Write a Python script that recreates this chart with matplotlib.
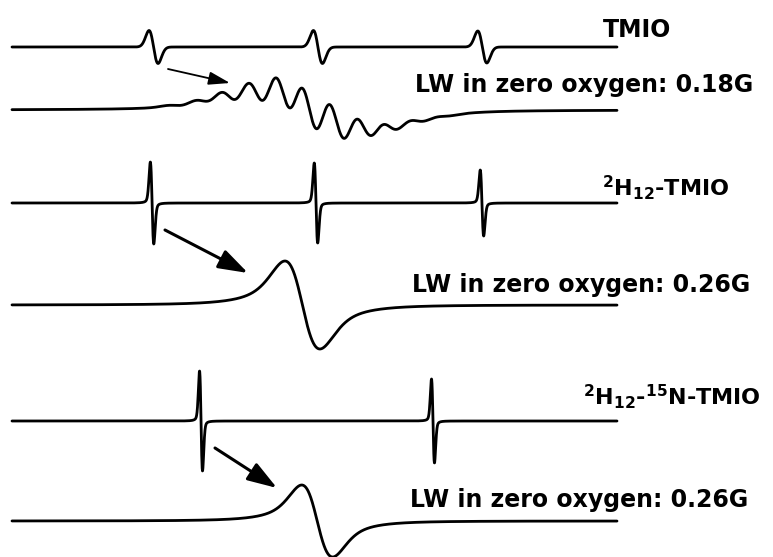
import numpy as np
import matplotlib
matplotlib.use('Agg')
import matplotlib.pyplot as plt
from matplotlib.patches import FancyArrowPatch

plt.rcParams['font.family'] = ['DejaVu Sans']
plt.rcParams['mathtext.fontset'] = 'dejavusans'
plt.rcParams['mathtext.default'] = 'regular'

## spectrum data (field in G, heights in a.u.)
full_scan = 53.0     # 3-line survey scans
zoom_scan = 4.5      # expanded low-field line

tmio_pos = [12.4, 26.8, 41.2]
tmio_amp = [16.5, 16.5, 16.0]
tmio_pp = 0.79

dtmio_pos = [12.27, 26.63, 41.17]
dtmio_amp = [41, 40, 33]
dtmio_pp = 0.30

n15_pos = [16.56, 36.88]
n15_amp = [50, 42]
n15_pp = 0.26

# TMIO low-field line: methyl proton superhyperfine components + broad envelope
shf_pos = [1.23, 1.43, 1.62, 1.82, 2.02, 2.21, 2.41, 2.61, 2.80, 3.00, 3.19]
shf_int = [0.04, 0.12, 0.3, 0.55, 0.85, 1.0, 0.82, 0.5, 0.25, 0.1, 0.03]
shf_pp = 0.15
shf_height = 20
env_pos = [2.28]
env_amp = [13]
env_pp = 0.85

dtmio_zoom_pos = [2.16]
dtmio_zoom_amp = [44]
dtmio_zoom_pp = 0.26

n15_zoom_pos = [2.27]
n15_zoom_amp = [36]
n15_zoom_pp = 0.23

labels = ['TMIO', r'$^{2}$H$_{12}$-TMIO', r'$^{2}$H$_{12}$-$^{15}$N-TMIO']
lw_text = ['LW in zero oxygen: 0.18G', 'LW in zero oxygen: 0.26G', 'LW in zero oxygen: 0.26G']


def first_deriv(field, pos, amp, pp, eta=0.0):
    # pseudo-Voigt first derivative, each line scaled to its peak height
    y = np.zeros_like(field)
    for c, a in zip(pos, amp):
        u = (field - c) / (pp / 2)
        g = -u * np.exp(0.5 - u ** 2 / 2)
        v = (field - c) / (pp * np.sqrt(3) / 2)
        l = -v / (1 + v ** 2) ** 2 / 0.3248
        y += a * ((1 - eta) * g + eta * l)
    return y


W, H = 773, 557
fig = plt.figure(figsize=(W / 100, H / 100), dpi=100)

x0, x1 = 12, 617            # trace extent (px)
baselines = [47, 110, 203, 305, 421, 521]

def trace_axes(base_px, scan):
    ax = fig.add_axes([x0 / W, 1 - (base_px + 60) / H, (x1 - x0) / W, 120 / H])
    ax.set_xlim(0, scan)
    ax.set_ylim(-60, 60)
    ax.axis('off')
    return ax

f_full = np.linspace(0, full_scan, 4000)
f_zoom = np.linspace(0, zoom_scan, 4000)

shf = first_deriv(f_zoom, shf_pos, shf_int, shf_pp, eta=0.1)
shf = shf / shf.max() * shf_height
shf = shf + first_deriv(f_zoom, env_pos, env_amp, env_pp, eta=0.3)

spectra = [
    (f_full, first_deriv(f_full, tmio_pos, tmio_amp, tmio_pp), full_scan),
    (f_zoom, shf, zoom_scan),
    (f_full, first_deriv(f_full, dtmio_pos, dtmio_amp, dtmio_pp, eta=0.2), full_scan),
    (f_zoom, first_deriv(f_zoom, dtmio_zoom_pos, dtmio_zoom_amp, dtmio_zoom_pp, eta=0.7), zoom_scan),
    (f_full, first_deriv(f_full, n15_pos, n15_amp, n15_pp, eta=0.2), full_scan),
    (f_zoom, first_deriv(f_zoom, n15_zoom_pos, n15_zoom_amp, n15_zoom_pp, eta=0.7), zoom_scan),
]

for base, (fx, sig, scan) in zip(baselines, spectra):
    ax = trace_axes(base, scan)
    ax.plot(fx, sig, color='black', lw=2.0, clip_on=False, solid_capstyle='round')

## labels (left x px, baseline y px)
font = dict(fontweight='bold', color='black', va='baseline', ha='left')
for (lx, ly), s, fs in zip([(603, 37), (602, 196), (583, 405)], labels, [17, 16, 16]):
    fig.text(lx / W, 1 - ly / H, s, fontsize=fs, **font)
for (lx, ly), s in zip([(415, 92), (412, 292), (410, 507)], lw_text):
    fig.text(lx / W, 1 - ly / H, s, fontsize=17, **font)

## arrows from the low-field line to the expanded scan
arrows = [((168, 69), (230, 83), 1.3, 1.3, 0.4),
          ((165, 230), (248, 273), 2.2, 1.8, 0.6),
          ((215, 448), (277, 488), 2.2, 1.8, 0.6)]
for (ax_, ay_), (bx_, by_), lw, hl, hw in arrows:
    arr = FancyArrowPatch((ax_ / W, 1 - ay_ / H), (bx_ / W, 1 - by_ / H),
                          transform=fig.transFigure,
                          arrowstyle='-|>,head_length=%.2f,head_width=%.2f' % (hl, hw),
                          mutation_scale=10, lw=lw, color='black',
                          shrinkA=0, shrinkB=0)
    fig.add_artist(arr)

fig.savefig('out.png', dpi=100, facecolor='white')
